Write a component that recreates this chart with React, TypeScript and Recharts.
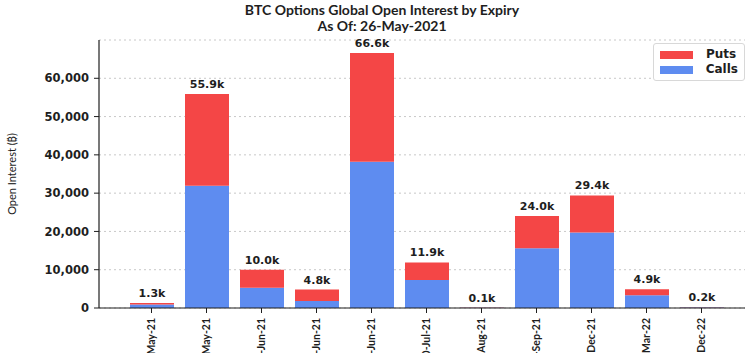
import { Bar, BarChart, CartesianGrid, Label, LabelList, XAxis, YAxis } from "recharts";

// expiry dates, values in BTC
const EXPIRIES = [
  "27-May-21",
  "28-May-21",
  "04-Jun-21",
  "11-Jun-21",
  "25-Jun-21",
  "30-Jul-21",
  "27-Aug-21",
  "24-Sep-21",
  "31-Dec-21",
  "25-Mar-22",
  "30-Dec-22",
];
const CALLS = [900, 31900, 5300, 1800, 38200, 7300, 40, 15600, 19700, 3300, 150];
const PUTS = [400, 24000, 4700, 3000, 28400, 4600, 60, 8400, 9700, 1600, 50];
const Y_TICKS = [0, 10000, 20000, 30000, 40000, 50000, 60000];

const RED = "#F44646";
const BLUE = "#5E8CF0";
const INK = "#1e1e1e";
const FONT = "Lato, 'Noto Sans', 'DejaVu Sans', sans-serif";
const WIDE = "'DejaVu Sans', sans-serif";

const data = EXPIRIES.map((expiry, i) => ({
  expiry,
  calls: CALLS[i],
  puts: PUTS[i],
  total: ((CALLS[i] + PUTS[i]) / 1000).toFixed(1) + "k",
}));

const XTick = (props: any) => {
  const { x, y, payload } = props;
  return (
    <g transform={`translate(${x},${y + 3})`}>
      <text
        transform="rotate(-90)"
        textAnchor="end"
        dy="0.35em"
        fontSize={10.5}
        fontWeight={700}
        fontFamily={FONT}
        fill={INK}
      >
        {payload.value}
      </text>
    </g>
  );
};

const LegendBox = () => (
  <div
    style={{
      position: "absolute",
      left: 653,
      top: 43,
      width: 92,
      boxSizing: "border-box",
      border: "1px solid #d8d8d8",
      borderRadius: 3,
      background: "#fff",
      padding: "3px 6px",
      fontFamily: WIDE,
      fontWeight: 700,
      fontSize: 12,
      color: INK,
      lineHeight: "15px",
    }}
  >
    {[
      ["Puts", RED],
      ["Calls", BLUE],
    ].map(([name, color]) => (
      <div key={name} style={{ display: "flex", alignItems: "center" }}>
        <span style={{ width: 33, height: 8, background: color, marginRight: 13 }} />
        {name}
      </div>
    ))}
  </div>
);

export default function App() {
  return (
    <div
      style={{
        position: "absolute",
        left: 0,
        top: 0,
        width: 749,
        height: 353,
        overflow: "hidden",
        background: "#fff",
      }}
    >
      <div
        style={{
          position: "absolute",
          left: 0,
          top: 2,
          width: 764,
          textAlign: "center",
          fontFamily: FONT,
          fontWeight: 700,
          fontSize: 14,
          lineHeight: "16px",
          color: INK,
        }}
      >
        <div>BTC Options Global Open Interest by Expiry</div>
        <div>As Of: 26-May-2021</div>
      </div>
      <BarChart
        width={749}
        height={420}
        data={data}
        margin={{ top: 40, right: 4, left: 0, bottom: 32 }}
        style={{ position: "absolute", left: 0, top: 0 }}
      >
        <CartesianGrid vertical={false} stroke="#c8c8c8" strokeDasharray="2 3" />
        <XAxis
          dataKey="expiry"
          height={80}
          interval={0}
          padding={{ left: 25, right: 16 }}
          tick={<XTick />}
          tickSize={5}
          axisLine={{ stroke: INK, strokeWidth: 1.2 }}
          tickLine={{ stroke: INK }}
        />
        <YAxis
          width={99}
          domain={[0, 70000]}
          ticks={Y_TICKS}
          tickFormatter={(v: number) => v.toLocaleString("en-US")}
          tickSize={5}
          tickMargin={5}
          tick={{ fill: INK, fontSize: 11.5, fontWeight: 700, fontFamily: WIDE }}
          axisLine={{ stroke: INK, strokeWidth: 1.2 }}
          tickLine={{ stroke: INK }}
        >
          <Label
            value="Open Interest (₿)"
            angle={-90}
            position="insideLeft"
            offset={12}
            style={{ fill: INK, fontSize: 11, fontFamily: FONT, textAnchor: "middle" }}
          />
        </YAxis>
        <Bar dataKey="calls" stackId="oi" fill={BLUE} barSize={44} isAnimationActive={false} />
        <Bar dataKey="puts" stackId="oi" fill={RED} barSize={44} isAnimationActive={false}>
          <LabelList
            dataKey="total"
            position="top"
            offset={6}
            fill={INK}
            fontSize={11}
            fontWeight={700}
            fontFamily={WIDE}
          />
        </Bar>
      </BarChart>
      <LegendBox />
    </div>
  );
}
